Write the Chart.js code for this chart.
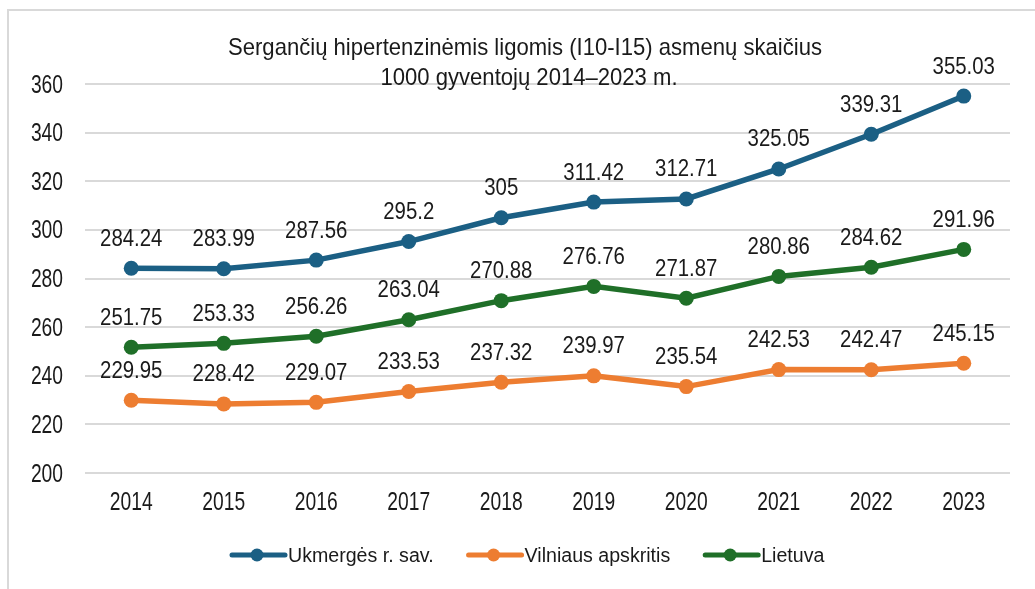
<!DOCTYPE html>
<html>
<head>
<meta charset="utf-8">
<script src="https://cdn.jsdelivr.net/npm/chart.js@4.4.1/dist/chart.umd.min.js"></script>
<style>
  html, body { margin: 0; padding: 0; background: #fff; }
  #wrap { position: relative; width: 1035px; height: 589px; }
  #frame { position: absolute; left: 7px; top: 9px; right: 0; bottom: 0; border-left: 2px solid #d9d9d9; border-top: 2px solid #d9d9d9; pointer-events: none; }
  canvas { position: absolute; left: 0; top: 0; }
</style>
</head>
<body>
<div id="wrap">
  <canvas id="c" width="1035" height="589"></canvas>
  <div id="frame"></div>
</div>
<script>
const years = ['2014','2015','2016','2017','2018','2019','2020','2021','2022','2023'];
const ukmerge = [284.24, 283.99, 287.56, 295.2, 305, 311.42, 312.71, 325.05, 339.31, 355.03];
const vilnius = [229.95, 228.42, 229.07, 233.53, 237.32, 239.97, 235.54, 242.53, 242.47, 245.15];
const lietuva = [251.75, 253.33, 256.26, 263.04, 270.88, 276.76, 271.87, 280.86, 284.62, 291.96];
const seriesNames = ['Ukmergės r. sav.', 'Vilniaus apskritis', 'Lietuva'];
const titleLines = ['Sergančių hipertenzinėmis ligomis (I10-I15) asmenų skaičius', '1000 gyventojų 2014–2023 m.'];
const yMin = 200, yMax = 360, yStep = 20;

const FONT = '"Liberation Sans", Arial, sans-serif';
const TEXT = '#1a1a1a';
const colors = ['#1b5f84', '#ed7d31', '#1f6f28'];

function txt(ctx, s, x, y, size, k, align) {
  ctx.save();
  ctx.font = size + 'px ' + FONT;
  ctx.fillStyle = TEXT;
  ctx.translate(x, y);
  ctx.scale(k, 1);
  ctx.textAlign = align;
  ctx.textBaseline = 'alphabetic';
  ctx.fillText(s, 0, 0);
  ctx.restore();
}
function tw(ctx, s, size, k) {
  ctx.save();
  ctx.font = size + 'px ' + FONT;
  const w = ctx.measureText(s).width * k;
  ctx.restore();
  return w;
}

const drawPlugin = {
  id: 'customDraw',
  afterDraw(chart) {
    const ctx = chart.ctx;
    const xs = chart.scales.x, ys = chart.scales.y;
    // axis tick labels
    ys.ticks.forEach(t => {
      txt(ctx, String(t.value), 63, ys.getPixelForValue(t.value) + 8.5, 26, 0.74, 'right');
    });
    xs.ticks.forEach((t, i) => {
      txt(ctx, xs.getLabelForValue(t.value), xs.getPixelForTick(i), chart.chartArea.bottom + 36.5, 26, 0.74, 'center');
    });
    // data labels
    chart.data.datasets.forEach((ds, i) => {
      const meta = chart.getDatasetMeta(i);
      meta.data.forEach((pt, j) => {
        txt(ctx, String(ds.data[j]), pt.x, pt.y - 22.5, 24, 0.85, 'center');
      });
    });
    // title
    txt(ctx, titleLines[0], 525, 55, 24, 0.92, 'center');
    txt(ctx, titleLines[1], 529, 85, 24, 0.92, 'center');
    // legend
    let x = 230;
    const y = 555;
    chart.data.datasets.forEach((ds) => {
      ctx.save();
      ctx.strokeStyle = ds.borderColor;
      ctx.lineWidth = 5;
      ctx.lineCap = 'round';
      ctx.beginPath();
      ctx.moveTo(x + 2, y);
      ctx.lineTo(x + 55, y);
      ctx.stroke();
      ctx.fillStyle = ds.borderColor;
      ctx.beginPath();
      ctx.arc(x + 27, y, 6.5, 0, Math.PI * 2);
      ctx.fill();
      ctx.restore();
      txt(ctx, ds.label, x + 58, y + 6.5, 20, 0.98, 'left');
      x += 58 + tw(ctx, ds.label, 20, 0.98) + 33;
    });
  }
};

const mk = (label, data, color) => ({
  label, data,
  borderColor: color, backgroundColor: color,
  borderWidth: 5.5, pointRadius: 7.5, pointHoverRadius: 7.5,
  pointBackgroundColor: color, pointBorderColor: color, pointBorderWidth: 0,
  tension: 0, clip: false
});

new Chart(document.getElementById('c'), {
  type: 'line',
  data: {
    labels: years,
    datasets: [
      mk(seriesNames[0], ukmerge, colors[0]),
      mk(seriesNames[1], vilnius, colors[1]),
      mk(seriesNames[2], lietuva, colors[2])
    ]
  },
  options: {
    responsive: false,
    animation: false,
    events: [],
    layout: { padding: { left: 0, top: 84, right: 25, bottom: 0 } },
    plugins: { legend: { display: false }, title: { display: false }, tooltip: { enabled: false } },
    scales: {
      x: {
        offset: true,
        grid: { display: false, drawTicks: false },
        border: { display: false },
        ticks: { display: false },
        afterFit(s) { s.height = 116; }
      },
      y: {
        min: yMin, max: yMax,
        grid: { color: '#d9d9d9', lineWidth: 2, drawTicks: false },
        border: { display: false },
        ticks: { stepSize: yStep, display: false },
        afterFit(s) { s.width = 85; }
      }
    }
  },
  plugins: [drawPlugin]
});
</script>
</body>
</html>
